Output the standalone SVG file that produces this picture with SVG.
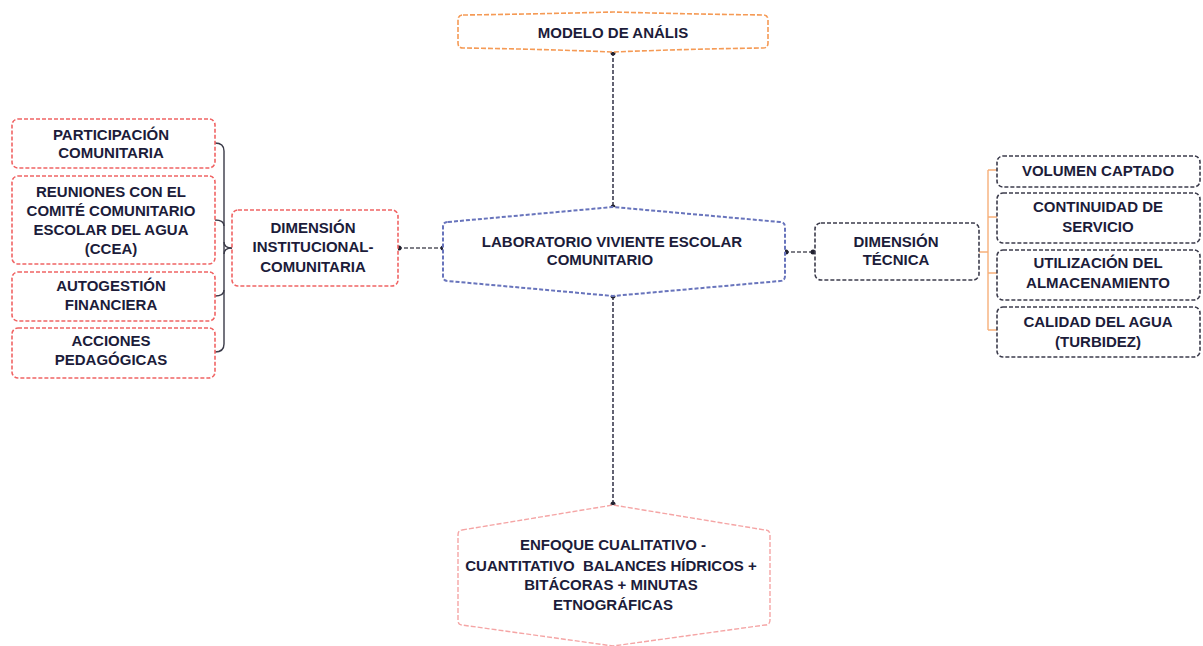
<svg xmlns="http://www.w3.org/2000/svg" width="1203" height="646" viewBox="0 0 1203 646">
<style>
text{font-family:"Liberation Sans",Arial,sans-serif;font-weight:bold;font-size:15px;fill:#1c1c3a;text-anchor:middle}
.red{fill:#fff;stroke:#f06464;stroke-width:1.6;stroke-dasharray:4 2}
.dark{fill:#fff;stroke:#3c3c4c;stroke-width:1.6;stroke-dasharray:4 2}
.orange{fill:#fff;stroke:#f59a55;stroke-width:1.6;stroke-dasharray:5 2}
.blue{fill:#fff;stroke:#6874bc;stroke-width:2;stroke-dasharray:4 2}
.pink{fill:#fff;stroke:#f5a5a5;stroke-width:1.4;stroke-dasharray:5 2}
.dash{fill:none;stroke:#555560;stroke-width:1.5;stroke-dasharray:4 2}
.vdash{fill:none;stroke:#3c3c50;stroke-width:1.6;stroke-dasharray:4 2}
.brk{fill:none;stroke:#3a3a48;stroke-width:1.4}
.obrk{fill:none;stroke:#f7b07a;stroke-width:1.4}
.dot{fill:#222230}
</style>
<rect width="1203" height="646" fill="#fff"/>
<g id="connectors">
<path class="vdash" d="M613,52 V207"/>
<path class="vdash" d="M613,296 V505"/>
<path class="dash" d="M398,248 H443"/>
<path class="dash" d="M785,252 H815"/>
<path class="brk" d="M215,143 Q224,143 224,151 V344 Q224,352 215,352"/>
<path class="brk" d="M215,220 Q224,220 224,226"/>
<path class="brk" d="M215,296 Q224,296 224,290"/>
<path class="brk" d="M224,242 Q224,248 232,248"/>
<path class="brk" d="M224,254 Q224,248 232,248"/>
<path class="obrk" d="M988,170 V330 M988,170 H997 M988,217 H997 M988,273 H997 M988,330 H997 M979,252 H988"/>
<circle class="dot" cx="613" cy="53" r="2.5"/>
<circle class="dot" cx="613" cy="207" r="2.5"/>
<circle class="dot" cx="613" cy="296" r="2.5"/>
<circle class="dot" cx="613" cy="504" r="2.5"/>
<circle class="dot" cx="399" cy="248" r="2.5"/>
<circle class="dot" cx="443" cy="248" r="2.5"/>
<circle class="dot" cx="786" cy="252" r="2.5"/>
<circle class="dot" cx="813" cy="252" r="2.5"/>
</g>
<g id="modelo">
<path class="orange" d="M463,15 Q538,14 613,12 Q688,14 763,15 Q768,15 768,20 V43 Q768,48 763,48 Q688,49 613,52 Q538,49 463,48 Q458,48 458,43 V20 Q458,15 463,15 Z"/>
<text x="613" y="38">MODELO DE ANÁLIS</text>
</g>
<g id="laboratorio">
<path class="blue" d="M448,222 L613,207 L780,222 Q785,222 785,227 V276 Q785,281 780,281 L613,296 L448,281 Q443,281 443,276 V227 Q443,222 448,222 Z"/>
<text x="612" y="247">LABORATORIO VIVIENTE ESCOLAR</text>
<text x="600" y="265">COMUNITARIO</text>
</g>
<g id="enfoque">
<path class="pink" d="M462,530 L613,505 L765,530 Q770,530 770,535 V620 Q770,625 765,625 L613,646 L462,625 Q458,625 458,620 V535 Q458,530 462,530 Z"/>
<text x="613" y="550">ENFOQUE CUALITATIVO -</text>
<text x="611" y="571" style="white-space:pre">CUANTITATIVO  BALANCES HÍDRICOS +</text>
<text x="611" y="590">BITÁCORAS + MINUTAS</text>
<text x="613" y="610">ETNOGRÁFICAS</text>
</g>
<g id="dim-institucional">
<rect class="red" x="232" y="210" width="166" height="76" rx="6"/>
<text x="313" y="233">DIMENSIÓN</text>
<text x="313" y="252">INSTITUCIONAL-</text>
<text x="313" y="272">COMUNITARIA</text>
</g>
<g id="participacion">
<rect class="red" x="12" y="119" width="203" height="49" rx="6"/>
<text x="111" y="140">PARTICIPACIÓN</text>
<text x="111" y="158">COMUNITARIA</text>
</g>
<g id="reuniones">
<rect class="red" x="12" y="176" width="203" height="88" rx="6"/>
<text x="111" y="197">REUNIONES CON EL</text>
<text x="111" y="216">COMITÉ COMUNITARIO</text>
<text x="111" y="235">ESCOLAR DEL AGUA</text>
<text x="111" y="254">(CCEA)</text>
</g>
<g id="autogestion">
<rect class="red" x="12" y="272" width="203" height="49" rx="6"/>
<text x="111" y="291">AUTOGESTIÓN</text>
<text x="111" y="310">FINANCIERA</text>
</g>
<g id="acciones">
<rect class="red" x="12" y="328" width="203" height="50" rx="6"/>
<text x="111" y="346">ACCIONES</text>
<text x="111" y="365">PEDAGÓGICAS</text>
</g>
<g id="dim-tecnica">
<rect class="dark" x="815" y="223" width="164" height="57" rx="6"/>
<text x="896" y="247">DIMENSIÓN</text>
<text x="896" y="265">TÉCNICA</text>
</g>
<g id="volumen">
<rect class="dark" x="997" y="156" width="203" height="31" rx="6"/>
<text x="1098" y="176">VOLUMEN CAPTADO</text>
</g>
<g id="continuidad">
<rect class="dark" x="997" y="193" width="203" height="50" rx="6"/>
<text x="1098" y="212">CONTINUIDAD DE</text>
<text x="1098" y="232">SERVICIO</text>
</g>
<g id="utilizacion">
<rect class="dark" x="997" y="250" width="203" height="50" rx="6"/>
<text x="1098" y="268">UTILIZACIÓN DEL</text>
<text x="1098" y="288">ALMACENAMIENTO</text>
</g>
<g id="calidad">
<rect class="dark" x="997" y="307" width="203" height="50" rx="6"/>
<text x="1098" y="327">CALIDAD DEL AGUA</text>
<text x="1098" y="347">(TURBIDEZ)</text>
</g>
</svg>
